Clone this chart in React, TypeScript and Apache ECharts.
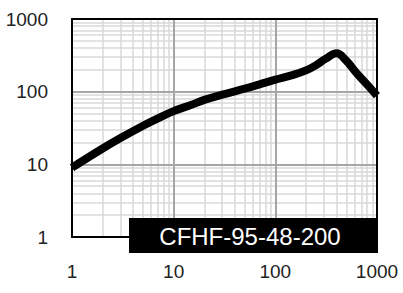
import React, { useEffect, useRef } from "react";
import * as echarts from "echarts";

const curveX = [1, 2, 3, 5, 7, 10, 15, 20, 30, 50, 70, 100, 150, 200, 250, 314, 400, 493, 630, 800, 1000];
const curveY = [9.0, 16.5, 23, 34, 43, 54, 66, 77, 91, 110, 126, 146, 170, 196, 230, 285, 338, 272, 180, 125, 88];
const majorTicks = [10, 100];
const minorTicks = [2, 3, 4, 5, 6, 7, 8, 9, 20, 30, 40, 50, 60, 70, 80, 90, 200, 300, 400, 500, 600, 700, 800, 900];
const axisMin = 1;
const axisMax = 1000;
const labelText = "CFHF-95-48-200";

export default function App() {
  const ref = useRef<HTMLDivElement>(null);
  useEffect(() => {
    if (!ref.current) return;
    const chart = echarts.init(ref.current, undefined, { renderer: "svg" });
    const font = "Liberation Sans, Arial, sans-serif";
    const hiddenAxis = (extra: any) => ({
      type: "log",
      logBase: 10,
      min: axisMin,
      max: axisMax,
      axisLine: { show: true, onZero: false, lineStyle: { color: "#000", width: 2 } },
      axisTick: { show: false },
      axisLabel: { show: false },
      splitLine: { show: false },
      z: 20,
      ...extra,
    });
    const fmt = (v: number) => String(Math.round(v));
    chart.setOption({
      animation: false,
      grid: { left: 72, right: 26, top: 19, bottom: 56 },
      xAxis: [
        hiddenAxis({
          position: "bottom",
          axisLabel: { show: true, color: "#222", fontSize: 19, fontFamily: font, margin: 25, formatter: fmt },
        }),
        hiddenAxis({ position: "top" }),
      ],
      yAxis: [
        hiddenAxis({
          position: "left",
          axisLabel: { show: true, color: "#222", fontSize: 19, fontFamily: font, margin: 24, formatter: fmt },
        }),
        hiddenAxis({ position: "right" }),
      ],
      series: [
        {
          type: "line",
          data: [],
          z: 1,
          silent: true,
          markLine: {
            z: 1,
            silent: true,
            symbol: ["none", "none"],
            label: { show: false },
            lineStyle: { color: "#d9d9d9", width: 1.5, type: "solid" },
            data: [
              ...minorTicks.map((v) => ({ xAxis: v })),
              ...minorTicks.map((v) => ({ yAxis: v })),
            ],
          },
        },
        {
          type: "line",
          data: [],
          z: 2,
          silent: true,
          markLine: {
            z: 2,
            silent: true,
            symbol: ["none", "none"],
            label: { show: false },
            lineStyle: { color: "#a6a6a6", width: 2, type: "solid" },
            data: [
              ...majorTicks.map((v) => ({ xAxis: v })),
              ...majorTicks.map((v) => ({ yAxis: v })),
            ],
          },
        },
        {
          type: "line",
          z: 10,
          data: curveX.map((x, i) => [x, curveY[i]]),
          smooth: 0.4,
          showSymbol: false,
          lineStyle: { color: "#000", width: 8, cap: "butt", join: "round" },
        },
      ],
      graphic: [
        {
          type: "rect",
          z: 100,
          shape: { x: 129, y: 218, width: 249, height: 35 },
          style: { fill: "#000" },
        },
        {
          type: "text",
          z: 101,
          style: {
            text: labelText,
            x: 250,
            y: 236,
            fill: "#fff",
            fontSize: 24,
            fontFamily: font,
            align: "center",
            verticalAlign: "middle",
          },
        },
      ],
    });
    return () => chart.dispose();
  }, []);
  return (
    <div
      ref={ref}
      style={{ position: "fixed", left: 0, top: 0, width: 403, height: 293, background: "#fff" }}
    />
  );
}
